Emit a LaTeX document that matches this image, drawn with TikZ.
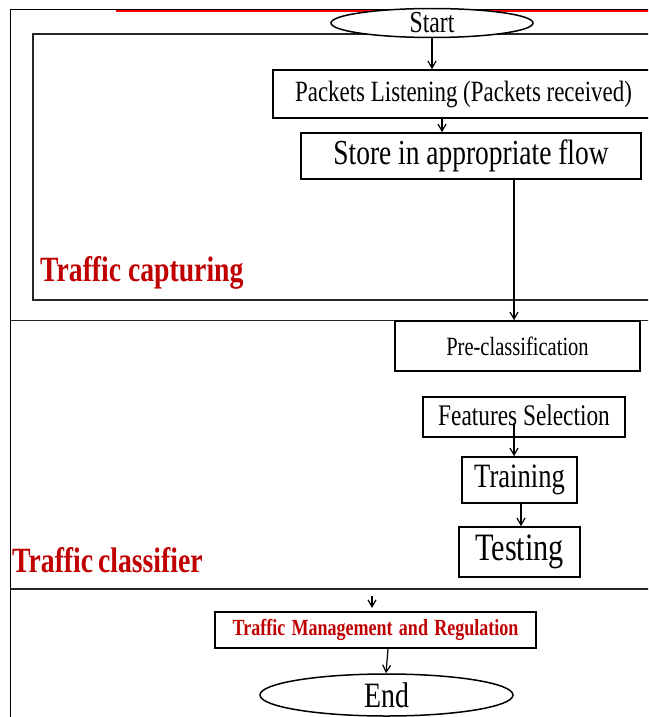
\documentclass[tikz,border=0pt]{standalone}
\usepackage{fontspec}
\setmainfont{Liberation Serif}[FakeStretch=0.78]
\usetikzlibrary{shapes.geometric,arrows.meta,calc}
\definecolor{capred}{HTML}{C00000}
\tikzset{
  frameline/.style={line width=1.6pt, draw=black!85},
  boxnode/.style={draw, line width=1.5pt, rectangle, inner sep=0pt, align=center},
  ovalnode/.style={draw, line width=1.5pt, ellipse, inner sep=0pt},
  flow/.style={line width=1.2pt, -{Straight Barb[length=7pt,width=8pt,line width=1.2pt]}},
  sectionlabel/.style={anchor=west, inner sep=0pt, text=capred, font=\bfseries\fontsize{35.5}{38}\selectfont}
}
\newcommand{\gapsp}{\hspace{6.3pt}}
\begin{document}
\begin{tikzpicture}[x=1pt,y=-1pt]
  \useasboundingbox (0,0) rectangle (648,717);
  \clip (0,0) rectangle (648,717);

  % outer frame and section separators
  \draw[line width=1.2pt] (10.5,9.5) -- (660,9.5);
  \draw[line width=1.5pt, red] (116,11) -- (660,11);
  \draw[line width=1.2pt] (10.5,9.5) -- (10.5,720);
  \draw[frameline] (10,320.5) -- (660,320.5);
  \draw[frameline] (10,589) -- (660,589);

  % capture section box (open to the right)
  \draw[frameline, line width=2pt] (660,34.5) -- (32.5,34.5) -- (32.5,299.5) -- (660,299.5);

  % flow nodes
  \node[ovalnode, fill=white, minimum width=202pt, minimum height=24pt] (start) at (432,23)
    {\raisebox{-1.5pt}{\fontsize{30.5}{31}\selectfont Start}};
  \node[boxnode, minimum width=381pt, minimum height=48pt] (listen) at (463.5,94)
    {\fontsize{29.4}{31}\selectfont Packets Listening (Packets received)};
  \node[boxnode, minimum width=340pt, minimum height=46pt] (store) at (471,156)
    {\raisebox{-2pt}{\fontsize{35.2}{37}\selectfont Store in appropriate flow}};
  \node[boxnode, minimum width=245pt, minimum height=50pt] (precls) at (517.5,346)
    {\fontsize{26.3}{28}\selectfont Pre-classification};
  \node[boxnode, minimum width=202pt, minimum height=40pt] (feat) at (524,417)
    {\raisebox{4pt}{\fontsize{29.9}{31}\selectfont Features Selection}};
  \node[boxnode, minimum width=115pt, minimum height=46pt] (train) at (519.5,480)
    {\fontsize{34.1}{35}\selectfont Training};
  \node[boxnode, minimum width=121pt, minimum height=50pt] (test) at (519.5,552)
    {\fontsize{38.8}{40}\selectfont Testing};
  \node[boxnode, minimum width=321pt, minimum height=36pt] (manage) at (375.5,630)
    {\textcolor{capred}{\bfseries\fontsize{23.1}{25}\selectfont Traffic\gapsp Management\gapsp and\gapsp Regulation}};
  \node[ovalnode, minimum width=253pt, minimum height=42pt] (finish) at (386.5,695)
    {\fontsize{35.7}{37}\selectfont End};

  % section labels
  \node[sectionlabel] (lblcap) at (40,273) {Traffic capturing};
  \node[sectionlabel] (lblcls) at (12,560) {Traffic\hspace{-2pt} classifier};

  % connectors
  \draw[flow] (start.south) -- (start.south |- listen.north);
  \draw[flow] ([xshift=-21.5pt]listen.south) -- ([xshift=-21.5pt]listen.south |- store.north);
  \draw[flow] ([xshift=43pt]store.south) -- ([xshift=43pt]store.south |- precls.north);
  \draw[flow] ([xshift=-10pt,yshift=-6pt]feat.center) -- ([xshift=-10pt]feat.center |- train.north);
  \draw[flow] ([xshift=1.5pt]train.south) -- ([xshift=1.5pt]train.south |- test.north);
  \coordinate (dropin) at (372,596);
  \draw[flow] (dropin) -- (dropin |- 0,608);
  \draw[flow] ([xshift=12.5pt]manage.south) -- ([xshift=-0.5pt]finish.north);
\end{tikzpicture}
\end{document}
